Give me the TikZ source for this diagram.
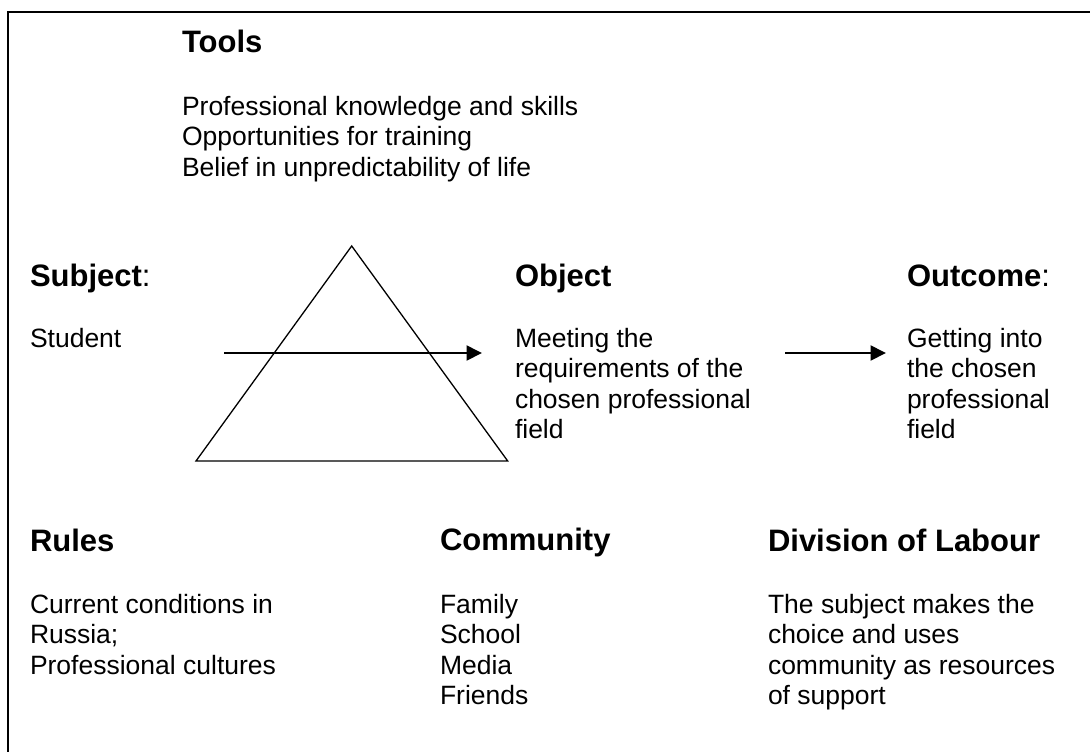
\documentclass[tikz,border=0pt]{standalone}
\usepackage{fontspec}
\setmainfont{Liberation Sans}
\usetikzlibrary{arrows.meta}
\tikzset{
  body/.style={anchor=base west, inner sep=0pt, outer sep=0pt, font=\fontsize{26.5}{30}\selectfont},
  head/.style={anchor=base west, inner sep=0pt, outer sep=0pt, font=\fontsize{31}{34}\selectfont\bfseries},
  frame/.style={line width=2pt, black},
  tri/.style={line width=1.3pt, black, line join=miter},
  flow/.style={line width=2pt, black, -{Triangle[length=15.5pt,width=15pt]}},
}
\begin{document}
\begin{tikzpicture}[x=1pt,y=-1pt]
\useasboundingbox (0,0) rectangle (1090,752);
% frame (top and left edges visible)
\coordinate (fl) at (8,752);
\coordinate (fc) at (8,12);
\coordinate (fr) at (1092,12);
\draw[frame] (fl) -- (fc) -- (fr);

% Tools
\node[head] (tools) at (182,53) {Tools};
\node[body] (t1) at (182,115) {Professional knowledge and skills};
\node[body] (t2) at (182,145.5) {Opportunities for training};
\node[body] (t3) at (182,176) {Belief in unpredictability of life};

% triangle
\coordinate (ta) at (351.7,246);
\coordinate (tl) at (196,461);
\coordinate (tr) at (507.7,461);
\draw[tri] (tl) -- (ta) -- (tr) -- cycle;

% Subject
\node[head] (subj) at (30,286) {Subject\mdseries:};
\node[body] (s1) at (30,347) {Student};

% Object
\node[head] (obj) at (515,286) {Object};
\node[body] (o1) at (515,347) {Meeting the};
\node[body] (o2) at (515,377.5) {requirements of the};
\node[body] (o3) at (515,408) {chosen professional};
\node[body] (o4) at (515,438.5) {field};

% Outcome
\node[head] (outc) at (907,286) {Outcome\mdseries:};
\node[body] (u1) at (907,347) {Getting into};
\node[body] (u2) at (907,377.5) {the chosen};
\node[body] (u3) at (907,408) {professional};
\node[body] (u4) at (907,438.5) {field};

% arrows
\coordinate (a1s) at (224,353);
\coordinate (a1e) at (482,353);
\draw[flow] (a1s) -- (a1e);
\coordinate (a2s) at (785,353);
\coordinate (a2e) at (886,353);
\draw[flow] (a2s) -- (a2e);

% Rules
\node[head] (rules) at (30,551) {Rules};
\node[body] (r1) at (30,613) {Current conditions in};
\node[body] (r2) at (30,643.5) {Russia;};
\node[body] (r3) at (30,674) {Professional cultures};

% Community
\node[head] (comm) at (440,550) {Community};
\node[body] (c1) at (440,613) {Family};
\node[body] (c2) at (440,643.5) {School};
\node[body] (c3) at (440,674) {Media};
\node[body] (c4) at (440,704.5) {Friends};

% Division of Labour
\node[head] (div) at (768,551) {Division of Labour};
\node[body] (d1) at (768,613) {The subject makes the};
\node[body] (d2) at (768,643.5) {choice and uses};
\node[body] (d3) at (768,674) {community as resources};
\node[body] (d4) at (768,704.5) {of support};
\end{tikzpicture}
\end{document}
